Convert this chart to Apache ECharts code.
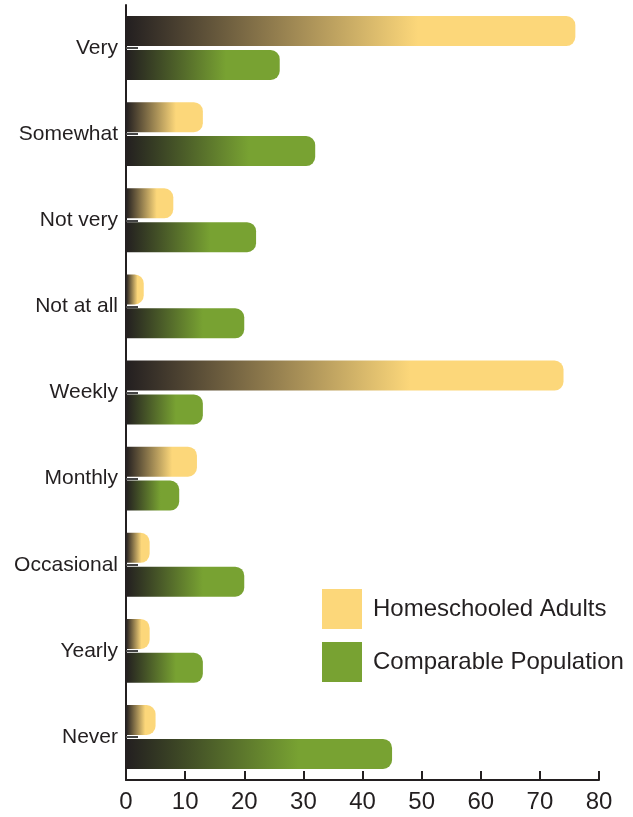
<!DOCTYPE html>
<html>
<head>
<meta charset="utf-8">
<script src="https://cdn.jsdelivr.net/npm/echarts@6/dist/echarts.min.js"></script>
<style>
html,body{margin:0;padding:0;background:#fff;}
#chart{width:633px;height:817px;}
</style>
</head>
<body>
<div id="chart"></div>
<script>
var categories = ['Very', 'Somewhat', 'Not very', 'Not at all', 'Weekly', 'Monthly', 'Occasional', 'Yearly', 'Never'];
var homeschooled = [76, 13, 8, 3, 74, 12, 4, 4, 5];
var comparable = [26, 32, 22, 20, 13, 9, 20, 13, 45];
var seriesNames = ['Homeschooled Adults', 'Comparable Population'];
var xTicks = [0, 80, 10];

var DARK = '#231F20';
var YELLOW = '#FCD77A';
var GREEN = '#78A232';

function grad(c) {
  return new echarts.graphic.LinearGradient(0, 0, 1, 0, [
    {offset: 0, color: DARK},
    {offset: 0.65, color: c},
    {offset: 1, color: c}
  ]);
}

var chart = echarts.init(document.getElementById('chart'), null, {renderer: 'canvas'});
chart.setOption({
  animation: false,
  backgroundColor: '#fff',
  grid: {left: 126, right: 34, top: 5, bottom: 37, containLabel: false},
  legend: {
    orient: 'vertical',
    left: 322,
    top: 589,
    padding: 0,
    itemWidth: 40,
    itemHeight: 40,
    itemGap: 13,
    icon: 'rect',
    selectedMode: false,
    textStyle: {fontFamily: 'Liberation Sans', fontSize: 24, color: DARK, padding: [0, 0, 0, 6]},
    data: [
      {name: seriesNames[0], itemStyle: {color: YELLOW}},
      {name: seriesNames[1], itemStyle: {color: GREEN}}
    ]
  },
  xAxis: {
    type: 'value',
    min: xTicks[0],
    max: xTicks[1],
    interval: xTicks[2],
    axisLine: {show: true, lineStyle: {color: DARK, width: 2}},
    axisTick: {show: true, inside: true, length: 9, lineStyle: {color: DARK, width: 2}},
    axisLabel: {fontFamily: 'Liberation Sans', fontSize: 24, color: DARK, margin: 10},
    splitLine: {show: false}
  },
  yAxis: {
    type: 'category',
    inverse: true,
    data: categories,
    axisLine: {show: true, lineStyle: {color: DARK, width: 2}},
    axisTick: {show: true, inside: true, alignWithLabel: true, length: 12, lineStyle: {color: '#444', width: 2}},
    axisLabel: {fontFamily: 'Liberation Sans', fontSize: 21, color: DARK, margin: 8}
  },
  series: [
    {
      name: seriesNames[0],
      type: 'bar',
      data: homeschooled,
      barWidth: 30,
      barGap: '13%',
      itemStyle: {color: grad(YELLOW), borderRadius: [0, 9, 9, 0]},
      z: 1
    },
    {
      name: seriesNames[1],
      type: 'bar',
      data: comparable,
      barWidth: 30,
      barGap: '13%',
      itemStyle: {color: grad(GREEN), borderRadius: [0, 9, 9, 0]},
      z: 1
    }
  ]
});
</script>
</body>
</html>
